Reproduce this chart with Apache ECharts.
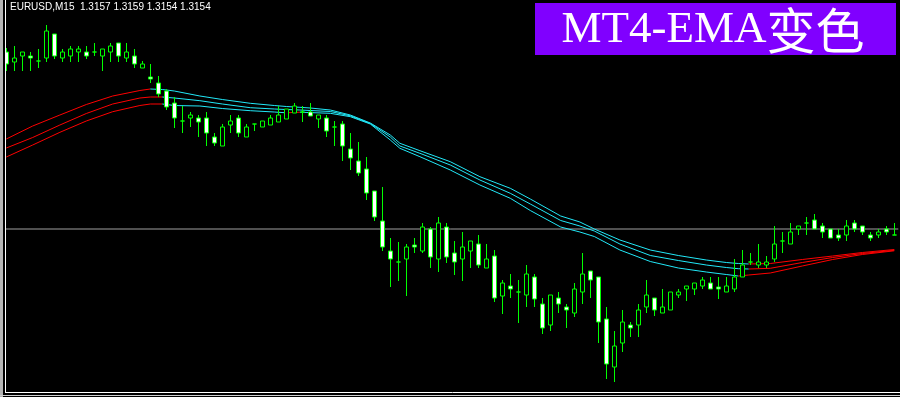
<!DOCTYPE html>
<html><head><meta charset="utf-8">
<script src="https://cdn.jsdelivr.net/npm/echarts/dist/echarts.min.js"></script>
<style>html,body{margin:0;padding:0;background:#000;overflow:hidden}#c{width:900px;height:397px;}</style>
</head><body><div id="c"></div>
<script>
const symbolLabel = 'EURUSD,M15  1.3157 1.3159 1.3154 1.3154';
const titleLatin = 'MT4-EMA';
const titleCjk = '变色';
const bidPrice = 1.31541;

const opens = [1.31718,1.31708,1.31714,1.31714,1.31709,1.31712,1.31736,1.31712,1.31714,1.31718,
1.31718,1.31718,1.31714,1.31718,1.31727,1.31712,1.31714,1.31702,1.31693,1.31687,
1.31679,1.31667,1.31649,1.31652,1.31652,1.31652,1.31633,1.31624,1.31645,1.31652,
1.31633,1.31646,1.31643,1.31645,1.31648,1.31651,1.31657,1.31658,1.31658,1.31651,
1.31652,1.31643,1.31646,1.31621,1.31609,1.31601,1.31579,1.31549,1.31519,1.31508,
1.31511,1.31525,1.31519,1.31541,1.31511,1.31543,1.31517,1.31511,1.31519,1.31526,
1.31502,1.31514,1.31474,1.31484,1.31478,1.31475,1.31493,1.31466,1.31445,1.31472,
1.31463,1.31457,1.31478,1.31499,1.31493,1.31451,1.31403,1.31427,1.31445,1.31445,
1.31463,1.31472,1.31457,1.31460,1.31475,1.31481,1.31481,1.31484,1.31487,1.31483,
1.31478,1.31481,1.31493,1.31508,1.31505,1.31505,1.31511,1.31529,1.31526,1.31541,
1.31547,1.31550,1.31544,1.31541,1.31535,1.31535,1.31547,1.31544,1.31535,1.31535,
1.31541,1.31535];
const closes = [1.31706,1.31712,1.31718,1.31712,1.31709,1.31739,1.31714,1.31718,1.31721,1.31721,
1.31714,1.31718,1.31721,1.31724,1.31714,1.31718,1.31706,1.31706,1.31691,1.31676,
1.31663,1.31652,1.31649,1.31655,1.31648,1.31637,1.31627,1.31643,1.31649,1.31637,
1.31643,1.31646,1.31649,1.31652,1.31655,1.31661,1.31664,1.31658,1.31654,1.31655,
1.31639,1.31643,1.31624,1.31612,1.31597,1.31577,1.31553,1.31523,1.31511,1.31508,
1.31523,1.31523,1.31543,1.31513,1.31547,1.31513,1.31508,1.31523,1.31529,1.31505,
1.31511,1.31472,1.31487,1.31481,1.31478,1.31496,1.31471,1.31442,1.31475,1.31466,
1.31460,1.31481,1.31496,1.31490,1.31448,1.31406,1.31424,1.31448,1.31442,1.31460,
1.31475,1.31460,1.31463,1.31478,1.31478,1.31484,1.31487,1.31490,1.31481,1.31481,
1.31484,1.31493,1.31505,1.31508,1.31508,1.31508,1.31526,1.31529,1.31538,1.31544,
1.31547,1.31541,1.31538,1.31532,1.31532,1.31544,1.31541,1.31538,1.31532,1.31538,
1.31538,1.31535];
const highs = [1.31722,1.31724,1.31718,1.31718,1.31721,1.31745,1.31736,1.31721,1.31724,1.31724,
1.31724,1.31727,1.31721,1.31727,1.31727,1.31727,1.31721,1.31709,1.31706,1.31694,
1.31681,1.31673,1.31664,1.31658,1.31655,1.31658,1.31637,1.31646,1.31655,1.31655,
1.31646,1.31646,1.31649,1.31655,1.31664,1.31661,1.31667,1.31664,1.31667,1.31655,
1.31655,1.31649,1.31649,1.31637,1.31628,1.31613,1.31579,1.31583,1.31532,1.31528,
1.31526,1.31532,1.31547,1.31543,1.31553,1.31547,1.31529,1.31538,1.31529,1.31535,
1.31526,1.31520,1.31490,1.31496,1.31490,1.31505,1.31496,1.31472,1.31475,1.31478,
1.31466,1.31487,1.31517,1.31499,1.31493,1.31463,1.31439,1.31460,1.31448,1.31466,
1.31490,1.31472,1.31481,1.31478,1.31481,1.31484,1.31487,1.31493,1.31493,1.31493,
1.31493,1.31511,1.31520,1.31517,1.31526,1.31514,1.31544,1.31538,1.31547,1.31544,
1.31553,1.31556,1.31547,1.31541,1.31541,1.31550,1.31550,1.31544,1.31538,1.31541,
1.31544,1.31547];
const lows = [1.31699,1.31699,1.31699,1.31699,1.31702,1.31708,1.31711,1.31708,1.31708,1.31708,
1.31711,1.31714,1.31699,1.31708,1.31708,1.31708,1.31702,1.31702,1.31687,1.31673,
1.31660,1.31642,1.31637,1.31643,1.31633,1.31624,1.31624,1.31624,1.31637,1.31633,
1.31633,1.31639,1.31643,1.31645,1.31648,1.31651,1.31657,1.31648,1.31654,1.31642,
1.31633,1.31624,1.31609,1.31600,1.31594,1.31570,1.31549,1.31519,1.31483,1.31489,
1.31474,1.31517,1.31517,1.31502,1.31498,1.31507,1.31495,1.31489,1.31502,1.31502,
1.31502,1.31468,1.31456,1.31472,1.31447,1.31463,1.31463,1.31436,1.31439,1.31457,
1.31442,1.31453,1.31466,1.31472,1.31427,1.31391,1.31388,1.31418,1.31433,1.31433,
1.31457,1.31454,1.31457,1.31460,1.31472,1.31469,1.31475,1.31481,1.31481,1.31471,
1.31478,1.31478,1.31493,1.31505,1.31502,1.31502,1.31508,1.31517,1.31526,1.31535,
1.31535,1.31541,1.31532,1.31532,1.31529,1.31529,1.31538,1.31535,1.31529,1.31532,
1.31535,1.31535];

// EMA readings at bar positions (bar index, may be fractional)
const emaIdx = [0,3.3,6.7,10,13.3,16.7,18,19.5,21,24.2,27,30.5,33.5,35,36.7,38,40.5,43,45.5,48,49.2,51.7,55.5,59.2,63,65.5,69.3,71.7,73.5,76.7,80.5,84,87.5,90,91.5,92.8,95.5,99.5,103.3,107,111];
const emaTop = [1.31631,1.31644,1.31655,1.316655,1.31674,1.316795,1.31681,1.316805,1.31679,1.31674,1.316705,1.316667,1.316645,1.316635,1.316627,1.31662,1.3166,1.31655,1.31647,1.31635,1.316267,1.316193,1.316083,1.315933,1.315817,1.31571,1.31554,1.31548,1.31541,1.3153,1.3152,1.315145,1.3151,1.315075,1.315065,1.31506,1.315065,1.315105,1.31514,1.315175,1.315205];
const emaMid = [1.31622,1.316325,1.31645,1.316565,1.31666,1.31672,1.31673,1.31673,1.31672,1.316693,1.31666,1.316623,1.31661,1.316605,1.3166,1.316595,1.316585,1.316542,1.316465,1.31633,1.31624,1.316167,1.31605,1.3159,1.315767,1.31566,1.315495,1.31544,1.31539,1.31526,1.315145,1.315095,1.31505,1.315025,1.315013,1.31501,1.315017,1.315075,1.315125,1.315165,1.315197];
const emaBot = [1.31613,1.31625,1.316377,1.31649,1.316583,1.316645,1.31666,1.31666,1.316645,1.31664,1.316615,1.316593,1.31658,1.316572,1.316578,1.316574,1.316567,1.316533,1.31646,1.3163,1.316217,1.316133,1.316,1.31585,1.315717,1.315595,1.31543,1.31538,1.315335,1.3152,1.315085,1.31502,1.31498,1.314955,1.31494,1.31495,1.31497,1.31504,1.315105,1.315155,1.315192];

const categories = opens.map((_, i) => String(i));
const UP_COLOR = '#ff0000', DOWN_COLOR = '#22e8f8';

function slopeRuns(idx, vals) {
  const runs = []; let cur = null; let prev = 'up';
  for (let j = 0; j < vals.length - 1; j++) {
    const d = vals[j + 1] - vals[j];
    const c = d > 0 ? 'up' : (d < 0 ? 'down' : prev);
    if (!cur || cur.c !== c) { cur = { c, pts: [[idx[j], vals[j]]] }; runs.push(cur); }
    cur.pts.push([idx[j + 1], vals[j + 1]]);
    prev = c;
  }
  return runs;
}

const series = [];
[emaTop, emaMid, emaBot].forEach(vals => {
  slopeRuns(emaIdx, vals).forEach(r => {
    series.push({
      type: 'line', xAxisIndex: 1, yAxisIndex: 0, data: r.pts,
      showSymbol: false, symbol: 'none', silent: true, z: 2,
      lineStyle: { color: r.c === 'up' ? UP_COLOR : DOWN_COLOR, width: 1 }
    });
  });
});
series.push({
  type: 'line', xAxisIndex: 1, data: [[-0.5, bidPrice], [111.5, bidPrice]],
  symbol: 'none', silent: true, z: 1, lineStyle: { color: '#a0a0a0', width: 1 }
});
series.push({
  type: 'candlestick', xAxisIndex: 0, yAxisIndex: 0, z: 5, clip: false,
  barWidth: 4,
  data: opens.map((o, i) => [o, closes[i], lows[i], highs[i]]),
  itemStyle: { color: '#000000', color0: '#ffffff', borderColor: '#00ff00', borderColor0: '#00ff00', borderColorDoji: '#00ff00', borderWidth: 1 },
  emphasis: { disabled: true }
});

const chart = echarts.init(document.getElementById('c'), null, { renderer: 'canvas' });
chart.setOption({
  backgroundColor: '#000000',
  animation: false,
  grid: { left: 2.3, right: 1.7, top: 0, bottom: 7 },
  xAxis: [
    { type: 'category', data: categories, boundaryGap: true, show: false },
    { type: 'value', min: -0.5, max: 111.5, show: false }
  ],
  yAxis: { type: 'value', min: 1.3138, max: 1.3177, show: false },
  series: series,
  graphic: [
    { type: 'rect', z: 100, shape: { x: 0, y: 0, width: 6, height: 397 }, style: { fill: '#000' } },
    { type: 'rect', z: 101, shape: { x: 0, y: 0, width: 3, height: 397 }, style: { fill: '#b4b4b4' } },
    { type: 'line', z: 101, shape: { x1: 5.5, y1: 0, x2: 5.5, y2: 393 }, style: { stroke: '#ffffff', lineWidth: 1 } },
    { type: 'rect', z: 100, shape: { x: 0, y: 391, width: 900, height: 6 }, style: { fill: '#000' } },
    { type: 'line', z: 101, shape: { x1: 5, y1: 392.5, x2: 900, y2: 392.5 }, style: { stroke: '#ffffff', lineWidth: 1 } },
    { type: 'line', z: 101, shape: { x1: 0, y1: 395.5, x2: 900, y2: 395.5 }, style: { stroke: '#d0d0d0', lineWidth: 1 } },
    { type: 'text', z: 101, style: { x: 10, y: 7, text: symbolLabel, fill: '#ffffff', font: '10px "Liberation Sans", Arial, sans-serif', textVerticalAlign: 'middle' } },
    { type: 'rect', z: 101, shape: { x: 535, y: 3, width: 361, height: 52 }, style: { fill: '#8000ff' } },
    { type: 'text', z: 102, style: {
        x: 713, y: 30, text: '{l|' + titleLatin + '}{c|' + titleCjk + '}',
        fill: '#ffffff',
        textAlign: 'center', textVerticalAlign: 'middle',
        rich: {
          l: { fontFamily: '"Liberation Serif", serif', fontSize: 45, fill: '#ffffff', lineHeight: 52 },
          c: { fontFamily: '"Noto Sans CJK SC", sans-serif', fontSize: 49, fill: '#ffffff', lineHeight: 52 }
        }
    } }
  ]
});
</script>
</body></html>
